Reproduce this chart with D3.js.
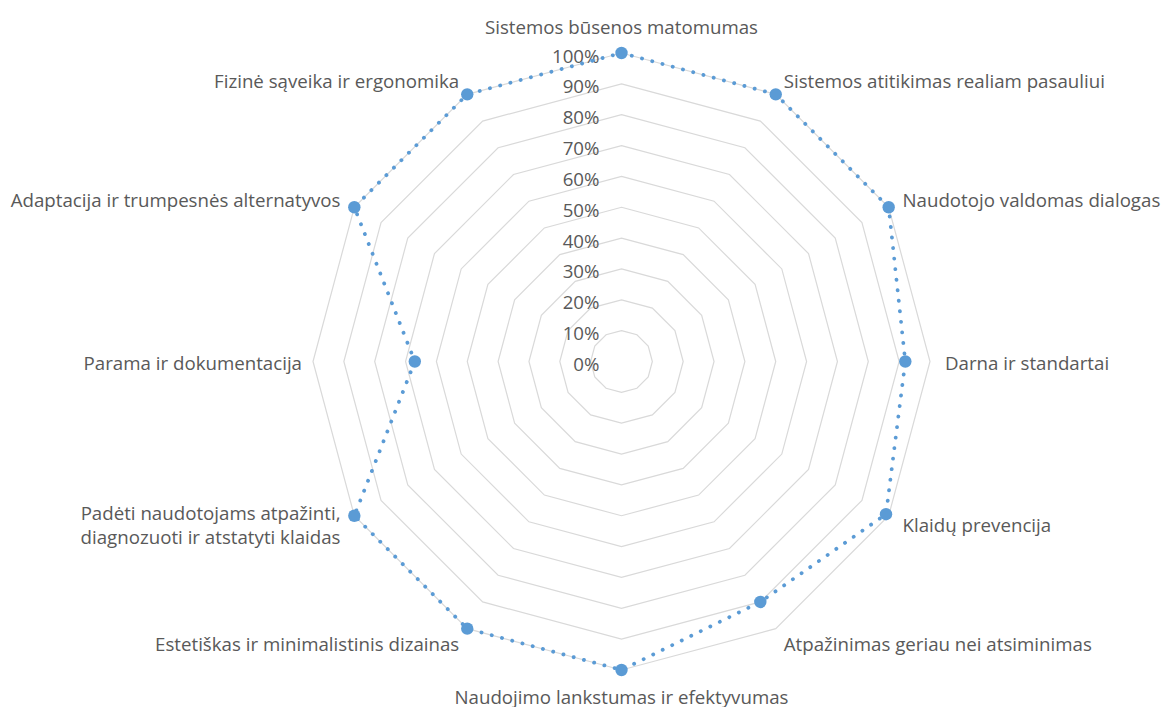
<!DOCTYPE html>
<html>
<head>
<meta charset="utf-8">
<script src="https://cdn.jsdelivr.net/npm/d3@7"></script>
<style>
  html, body { margin: 0; padding: 0; background: #ffffff; }
  svg { display: block; }
  text { font-family: "Open Sans", Lato, sans-serif; fill: #595959; }
</style>
</head>
<body>
<svg id="chart" width="1162" height="707"></svg>
<script>
const categories = [
  "Sistemos būsenos matomumas",
  "Sistemos atitikimas realiam pasauliui",
  "Naudotojo valdomas dialogas",
  "Darna ir standartai",
  "Klaidų prevencija",
  "Atpažinimas geriau nei atsiminimas",
  "Naudojimo lankstumas ir efektyvumas",
  "Estetiškas ir minimalistinis dizainas",
  "Padėti naudotojams atpažinti,\ndiagnozuoti ir atstatyti klaidas",
  "Parama ir dokumentacija",
  "Adaptacija ir trumpesnės alternatyvos",
  "Fizinė sąveika ir ergonomika"
];
const values = [100, 100, 100, 92, 99, 90, 100, 100, 100, 67, 100, 100];
const tickValues = [0, 10, 20, 30, 40, 50, 60, 70, 80, 90, 100];
const tickLabels = ["0%", "10%", "20%", "30%", "40%", "50%", "60%", "70%", "80%", "90%", "100%"];

const cx = 621.5, cy = 361.5, R = 308.5;
const color = "#5B9BD5";
const fontSize = 18.7;

const svg = d3.select("#chart");
const g = svg.append("g").attr("transform", `translate(${cx},${cy})`);

const r = d3.scaleLinear().domain([0, 100]).range([0, R]);
const angle = d3.scalePoint().domain(d3.range(categories.length)).range([0, 2 * Math.PI * (categories.length - 1) / categories.length]);

const pt = (i, v) => {
  const a = angle(i);
  return [r(v) * Math.sin(a), -r(v) * Math.cos(a)];
};

// grid polygons
const gridLine = d3.line().curve(d3.curveLinearClosed);
g.selectAll("path.grid")
  .data(tickValues)
  .enter().append("path")
  .attr("class", "grid")
  .attr("d", t => gridLine(categories.map((c, i) => pt(i, t))))
  .attr("fill", "none")
  .attr("stroke", "#D9D9D9")
  .attr("stroke-width", 1.2);

// tick labels
g.selectAll("text.tick")
  .data(tickValues)
  .enter().append("text")
  .attr("class", "tick")
  .attr("x", -22)
  .attr("y", t => -r(t) + 2)
  .attr("text-anchor", "end")
  .attr("dominant-baseline", "central")
  .attr("font-size", fontSize)
  .text((t, i) => tickLabels[i]);

// series line
const line = d3.line().curve(d3.curveLinearClosed);
g.append("path")
  .attr("d", line(values.map((v, i) => pt(i, v))))
  .attr("fill", "none")
  .attr("stroke", color)
  .attr("stroke-width", 3.8)
  .attr("stroke-linecap", "round")
  .attr("stroke-dasharray", "0.1 10.5");

// markers
g.selectAll("circle.pt")
  .data(values)
  .enter().append("circle")
  .attr("class", "pt")
  .attr("cx", (v, i) => pt(i, v)[0])
  .attr("cy", (v, i) => pt(i, v)[1])
  .attr("r", 6.2)
  .attr("fill", color);

// category labels
g.selectAll("text.cat")
  .data(categories)
  .enter().append("text")
  .attr("class", "cat")
  .attr("font-size", fontSize)
  .attr("dominant-baseline", "central")
  .each(function (c, i) {
    const a = angle(i);
    const s = Math.sin(a), co = Math.cos(a);
    let d = 16;
    if (Math.abs(co) < 0.01) d = s > 0 ? 15 : 11;
    let x = (R + d) * s;
    let y = -(R + d) * co;
    let anchor = "middle";
    if (s > 0.01) anchor = "start";
    else if (s < -0.01) anchor = "end";
    if (Math.abs(s) < 0.01) y += co > 0 ? -11 : 10;
    const lines = c.split("\n");
    const lh = 24;
    const el = d3.select(this).attr("text-anchor", anchor);
    lines.forEach((ln, k) => {
      el.append("tspan")
        .attr("x", x)
        .attr("y", y + (k - (lines.length - 1) / 2) * lh)
        .text(ln);
    });
  });
</script>
</body>
</html>
